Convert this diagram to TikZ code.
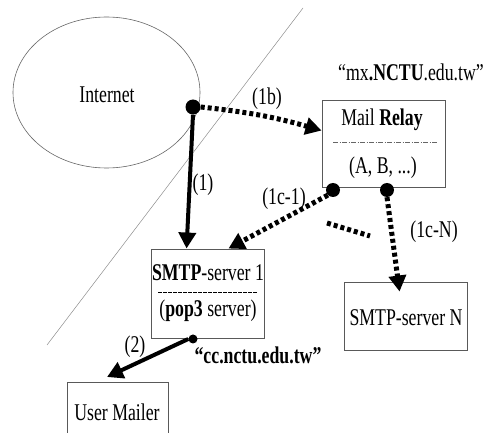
\documentclass[tikz,border=0pt]{standalone}
\usepackage{fontspec}
\setmainfont{Liberation Serif}
\usetikzlibrary{arrows.meta,calc,shapes.geometric}
\newcommand\ntxt[1]{\scalebox{0.74}[1]{#1}}
\tikzset{
  txt/.style={inner sep=0pt, font=\fontsize{24}{27}\selectfont},
  box/.style={draw=black!65, line width=0.9pt, rectangle, inner sep=0pt},
  dotn/.style={circle, fill=black, inner sep=0pt, minimum width=12pt, minimum height=15pt},
  tip/.style={-{Triangle[length=16pt,width=17pt]}},
  solidarrow/.style={tip, line width=4pt},
  dotarrow/.style={tip, line width=5pt, dash pattern=on 4pt off 3pt},
}
\begin{document}
\begin{tikzpicture}[x=1pt,y=-1pt]
\useasboundingbox (0,0) rectangle (483,433);
\clip (0,0) rectangle (483,433);
% diagonal line
\coordinate (lt) at (303,8);
\coordinate (lb) at (47,345);
\draw[black!45, line width=0.5pt] (lt) -- (lb);
% Internet
\node[ellipse, draw=black!60, line width=0.6pt, minimum width=187pt, minimum height=151pt, inner sep=0pt] (inet) at (106.5,92.5) {};
\node[txt] (inettxt) at (107,95) {\ntxt{Internet}};
% boxes
\node[box, minimum width=123pt, minimum height=87pt] (relay) at (383.5,143.5) {};
\node[txt] (relaytxt) at (382,120) {\ntxt{Mail \textbf{Relay}}};
\node[txt] (relayabc) at (383,168) {\ntxt{(A, B, ...)}};
\coordinate (rs1) at (333,142);
\coordinate (rs2) at (437,142);
\draw[black!60, line width=0.5pt, dash pattern=on 5pt off 1.5pt on 1pt off 1.5pt] (rs1) -- (rs2);
\node[txt] (mx) at (411,72) {\ntxt{``mx\textbf{.NCTU}.edu.tw''}};

\node[box, minimum width=113pt, minimum height=89pt] (smtp1) at (207.5,293.5) {};
\node[txt] (s1txt) at (208,273) {\ntxt{\textbf{SMTP}-server 1}};
\coordinate (ss1) at (158,293);
\coordinate (ss2) at (257,293);
\draw[black, line width=1pt, dash pattern=on 3.5pt off 1.5pt] (ss1) -- (ss2);
\node[txt] (s1pop) at (208,311) {\ntxt{(\textbf{pop3} server)}};

\node[box, minimum width=123pt, minimum height=68pt] (smtpN) at (405.5,316) {};
\node[txt] (sNtxt) at (406,318) {\ntxt{SMTP-server N}};

\node[box, minimum width=101pt, minimum height=80pt, anchor=north west] (mailer) at (67,382) {};
\node[txt] (mailtxt) at (117,412) {\ntxt{User Mailer}};

\node[txt] (cc) at (258,355) {\ntxt{\textbf{``cc.nctu.edu.tw''}}};

% dots
\node[dotn] (d1) at (193,107) {};
\node[dotn, minimum width=11pt, minimum height=14pt] (d2) at (333,190) {};
\node[dotn, minimum width=11pt, minimum height=14pt] (d3) at (387,190) {};
\node[dotn, minimum width=9pt, minimum height=8pt] (d4) at (193,339) {};

% arrows
\draw[solidarrow] (d1.south) -- ($(smtp1.north west)+(36,0)$);
\draw[dotarrow] (d1.east) to[bend left=5] ($(relay.north west)+(0,31)$);
\draw[dotarrow] (d2.south west) -- ($(smtp1.north east)+(-36,0)$);
\draw[dotarrow] (d3.south) -- ($(smtpN.north west)+(56,10)$);
\coordinate (e1) at (327,223);
\coordinate (e2) at (370,236);
\draw[line width=5pt, dash pattern=on 4pt off 3pt] (e1) -- (e2);
\draw[solidarrow] (d4.west) -- ($(mailer.north west)+(40,-5)$);

% labels
\node[txt] (l1) at (203,185) {\ntxt{(1)}};
\node[txt] (l1b) at (267,99) {\ntxt{(1b)}};
\node[txt] (l1c) at (284,199) {\ntxt{(1c-1)}};
\node[txt] (l1n) at (434,232) {\ntxt{(1c-N)}};
\node[txt] (l2) at (135,347) {\ntxt{(2)}};
\end{tikzpicture}
\end{document}
